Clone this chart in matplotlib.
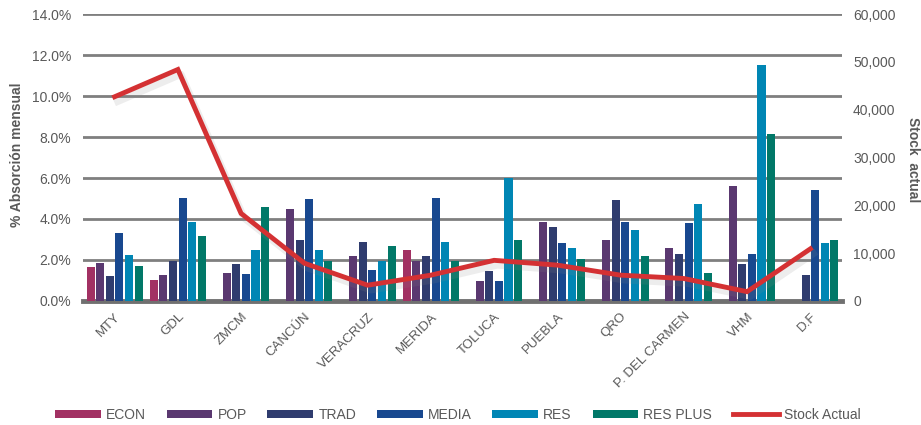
import numpy as np
import matplotlib.pyplot as plt
import matplotlib.ticker as mticker

plt.rcParams['font.family'] = ['Liberation Sans', 'DejaVu Sans']

cities = ['MTY', 'GDL', 'ZMCM', 'CANCÚN', 'VERACRUZ', 'MERIDA', 'TOLUCA',
          'PUEBLA', 'QRO', 'P. DEL CARMEN', 'VHM', 'D.F']

# % absorción mensual por segmento (0 = sin dato)
econ = [1.64, 1.02, 0, 0, 0, 2.49, 0, 0, 0, 0, 0, 0]
pop = [1.87, 1.27, 1.37, 4.49, 2.18, 1.97, 0.98, 3.87, 2.98, 2.59, 5.59, 0]
trad = [1.22, 1.97, 1.79, 2.98, 2.88, 2.18, 1.48, 3.63, 4.93, 2.28, 1.79, 1.27]
media = [3.30, 5.04, 1.32, 4.98, 1.53, 5.02, 0.98, 2.83, 3.87, 3.79, 2.28, 5.40]
res = [2.23, 3.84, 2.47, 2.47, 1.97, 2.88, 6.02, 2.59, 3.46, 4.75, 11.53, 2.83]
res_plus = [1.69, 3.19, 4.59, 1.97, 2.68, 1.97, 2.98, 2.03, 2.18, 1.37, 8.15, 2.98]

stock = [42700, 48400, 18300, 7900, 3300, 5400, 8500, 7500, 5400, 4700, 1950, 10900]

series = [('ECON', econ, '#a23163'), ('POP', pop, '#5a3870'),
          ('TRAD', trad, '#2f3c6e'), ('MEDIA', media, '#18488f'),
          ('RES', res, '#0086b4'), ('RES PLUS', res_plus, '#017868')]

txt = '#595959'

fig = plt.figure(figsize=(9.21, 4.25), dpi=100)
ax = fig.add_axes([0.0901, 0.2918, 0.8241, 0.6752])
ax2 = ax.twinx()

x = np.arange(len(cities))
w = 0.152
for i, (name, vals, col) in enumerate(series):
    ax.bar(x + (i - 2.5) * w, vals, width=w * 0.84, color=col, label=name, zorder=3)

ax.set_xlim(-0.5, len(cities) - 0.5)
ax.set_ylim(0, 14)
ax.yaxis.set_major_locator(mticker.MultipleLocator(2))
ax.yaxis.set_major_formatter(mticker.FuncFormatter(lambda v, p: f'{v:.1f}%'))
ax.grid(axis='y', color='#7f7f7f', linewidth=2, zorder=0)
ax.set_axisbelow(True)
for s in ['top', 'right', 'left']:
    ax.spines[s].set_visible(False)
ax.spines['bottom'].set_color('#707070')
ax.spines['bottom'].set_linewidth(3.5)
ax.tick_params(axis='y', length=0, pad=8.5, labelsize=10, labelcolor=txt)
ax.tick_params(axis='x', length=0, labelsize=9.5, labelcolor=txt, pad=7)
ax.set_xticks(x)
ax.set_xticklabels(cities, rotation=45, ha='right', rotation_mode='anchor')

# sombra de la línea
ax2.plot(x + 0.05, np.array(stock) - 1000, color='#888888', linewidth=5, alpha=0.15, zorder=2)
ax2.plot(x, stock, color='#d43133', linewidth=3.5, label='Stock Actual', zorder=4,
         solid_joinstyle='miter')
ax2.set_ylim(0, 60000)
ax2.yaxis.set_major_locator(mticker.MultipleLocator(10000))
ax2.yaxis.set_major_formatter(mticker.FuncFormatter(lambda v, p: f'{int(v):,}'))
for s in ax2.spines.values():
    s.set_visible(False)
ax2.tick_params(axis='y', length=0, pad=8, labelsize=10, labelcolor=txt)

fig.text(0.019, 0.637, '% Absorción mensual', rotation=90, ha='center', va='center',
         fontsize=10, fontweight='bold', color=txt)
fig.text(0.991, 0.624, 'Stock  actual', rotation=-90, ha='center', va='center',
         fontsize=10, fontweight='bold', color=txt)

h1, l1 = ax.get_legend_handles_labels()
h2, l2 = ax2.get_legend_handles_labels()
fig.legend(h1 + h2, l1 + l2, loc='center', bbox_to_anchor=(0.497, 0.024), ncol=7,
           frameon=False, fontsize=10, handlelength=3.3, handleheight=0.58,
           handletextpad=0.36, columnspacing=1.5, labelcolor=txt,
           borderaxespad=0, borderpad=0)

fig.savefig('out.png', dpi=100)
